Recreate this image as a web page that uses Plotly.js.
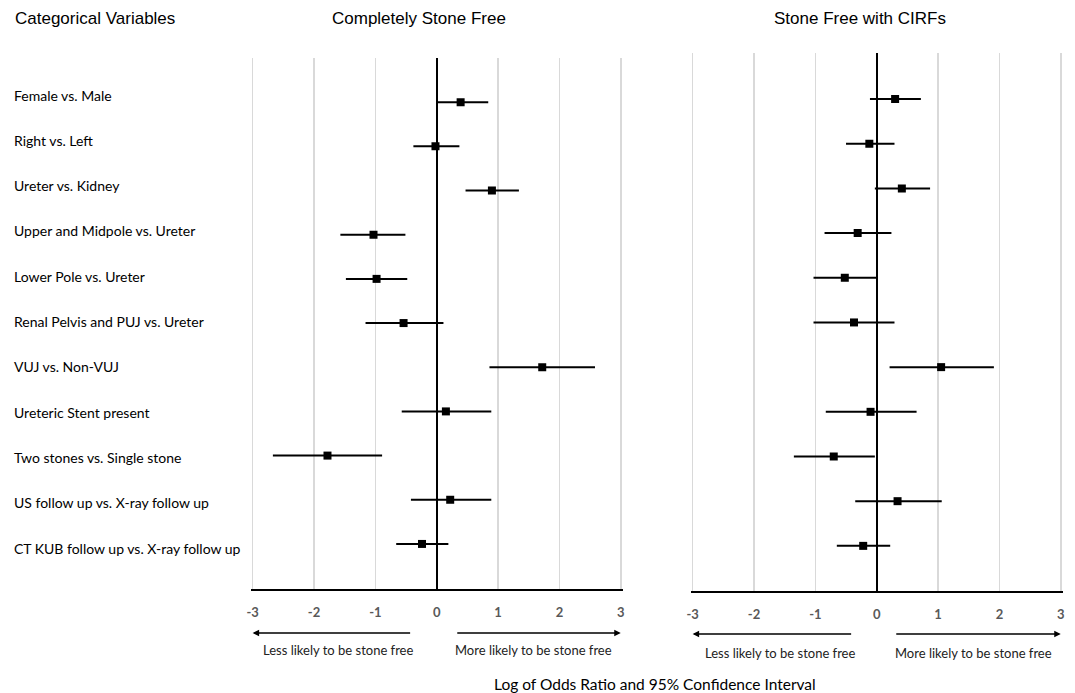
<!DOCTYPE html>
<html>
<head>
<meta charset="utf-8">
<script src="https://cdn.plot.ly/plotly-3.0.1.min.js"></script>
<style>html,body{margin:0;padding:0;background:#fff;}#chart{width:1075px;height:693px;}</style>
</head>
<body>
<div id="chart"></div>
<script>
// ---- Data ----
const categories = [
  "Female vs. Male",
  "Right vs. Left",
  "Ureter vs. Kidney",
  "Upper and Midpole vs. Ureter",
  "Lower Pole vs. Ureter",
  "Renal Pelvis and PUJ vs. Ureter",
  "VUJ vs. Non-VUJ",
  "Ureteric Stent present",
  "Two stones vs. Single stone",
  "US follow up vs. X-ray follow up",
  "CT KUB follow up vs. X-ray follow up"
];
// Completely Stone Free: log odds ratio, lower and upper 95% CI
const sfEst = [0.39, -0.02, 0.90, -1.03, -0.98, -0.54, 1.72, 0.15, -1.78, 0.22, -0.24];
const sfLow = [0.00, -0.38, 0.47, -1.57, -1.48, -1.16, 0.86, -0.57, -2.67, -0.42, -0.66];
const sfHigh = [0.84, 0.37, 1.34, -0.51, -0.48, 0.11, 2.58, 0.89, -0.89, 0.89, 0.19];
// Stone Free with CIRFs
const cfEst = [0.30, -0.12, 0.41, -0.31, -0.52, -0.37, 1.05, -0.10, -0.70, 0.34, -0.22];
const cfLow = [-0.11, -0.50, -0.03, -0.85, -1.03, -1.03, 0.21, -0.83, -1.35, -0.35, -0.65];
const cfHigh = [0.72, 0.29, 0.87, 0.24, -0.01, 0.29, 1.91, 0.65, -0.03, 1.06, 0.22];
const tickVals = [-3, -2, -1, 0, 1, 2, 3];
const tickText = ["-3", "-2", "-1", "0", "1", "2", "3"];
const panelTitles = ["Completely Stone Free", "Stone Free with CIRFs"];
const arrowLabels = ["Less likely to be stone free", "More likely to be stone free"];
const headerText = "Categorical Variables";
const axisTitle = "Log of Odds Ratio and 95% Confidence Interval";

// ---- Traces ----
const rows = categories.map((c, i) => i);
function forestTrace(est, lo, hi, xa, ya) {
  return {
    type: "scatter", mode: "markers",
    x: est, y: rows, xaxis: xa, yaxis: ya,
    marker: {symbol: "square", size: 8, color: "#000"},
    error_x: {
      type: "data", symmetric: false,
      array: est.map((v, i) => hi[i] - v),
      arrayminus: est.map((v, i) => v - lo[i]),
      width: 0, thickness: 2, color: "#000"
    },
    hoverinfo: "skip", showlegend: false
  };
}
const data = [
  forestTrace(sfEst, sfLow, sfHigh, "x", "y"),
  forestTrace(cfEst, cfLow, cfHigh, "x2", "y2")
];

const W = 1075, H = 693;
const px = v => v / W, py = v => 1 - v / H;
const calib = "Lato, 'Open Sans', sans-serif";
const arial = "'Liberation Sans', Arial, sans-serif";

function xAxis(domain, anchor) {
  return {
    domain: domain, anchor: anchor, range: [-3.03, 3.03],
    tickmode: "array", tickvals: tickVals, ticktext: tickText,
    showgrid: true, gridcolor: "#d9d9d9", gridwidth: 1.5,
    zeroline: true, zerolinecolor: "#000", zerolinewidth: 2,
    showline: true, linecolor: "#000", linewidth: 2, mirror: false,
    ticks: "", ticklabelstandoff: 10,
    tickfont: {family: calib, size: 13, color: "#595959", weight: "bold"},
    fixedrange: true
  };
}
function yAxis(domain, anchor, range) {
  return {
    domain: domain, anchor: anchor, range: range,
    showgrid: false, zeroline: false, showline: false,
    showticklabels: false, ticks: "", fixedrange: true
  };
}

const annotations = [];
// header
annotations.push({xref: "paper", yref: "paper", x: px(13), y: py(18), xanchor: "left", yanchor: "middle",
  text: headerText, showarrow: false, font: {family: arial, size: 17, color: "#000"}});
// panel titles
annotations.push({xref: "paper", yref: "paper", x: px(419), y: py(18), xanchor: "center", yanchor: "middle",
  text: panelTitles[0], showarrow: false, font: {family: arial, size: 17, color: "#000"}});
annotations.push({xref: "paper", yref: "paper", x: px(860), y: py(18), xanchor: "center", yanchor: "middle",
  text: panelTitles[1], showarrow: false, font: {family: arial, size: 17, color: "#000"}});
// category labels (left column, row pitch of the label list)
const labelTop = 95, labelPitch = 45.3;
categories.forEach((c, i) => {
  annotations.push({xref: "paper", yref: "paper", x: px(12), y: py(labelTop + i * labelPitch),
    xanchor: "left", yanchor: "middle",
    text: c, showarrow: false, font: {family: calib, size: 14, color: "#000"}});
});
// arrows and arrow labels
function arrows(xa, leftTail, rightTail, arrowY, textY, leftC, rightC) {
  annotations.push({xref: xa, yref: "paper", x: -3, y: py(arrowY), ax: leftTail, ay: 0,
    axref: "pixel", ayref: "pixel", text: "", showarrow: true,
    arrowhead: 2, arrowsize: 1, arrowwidth: 1.3, arrowcolor: "#000"});
  annotations.push({xref: xa, yref: "paper", x: 3, y: py(arrowY), ax: rightTail, ay: 0,
    axref: "pixel", ayref: "pixel", text: "", showarrow: true,
    arrowhead: 2, arrowsize: 1, arrowwidth: 1.3, arrowcolor: "#000"});
  annotations.push({xref: "paper", yref: "paper", x: px(leftC), y: py(textY), xanchor: "center", yanchor: "middle",
    text: arrowLabels[0], showarrow: false, font: {family: calib, size: 13, color: "#222"}});
  annotations.push({xref: "paper", yref: "paper", x: px(rightC), y: py(textY), xanchor: "center", yanchor: "middle",
    text: arrowLabels[1], showarrow: false, font: {family: calib, size: 13, color: "#222"}});
}
arrows("x", 159, -165, 633, 650, 338, 533);
arrows("x2", 160, -166, 634, 653, 780, 973);
// bottom title
annotations.push({xref: "paper", yref: "paper", x: px(655), y: py(684), xanchor: "center", yanchor: "middle",
  text: axisTitle, showarrow: false, font: {family: calib, size: 15.5, color: "#000"}});

const layout = {
  width: W, height: H,
  margin: {l: 0, r: 0, t: 0, b: 0},
  paper_bgcolor: "#fff", plot_bgcolor: "#fff",
  showlegend: false,
  xaxis: xAxis([px(250.8), px(622.6)], "y"),
  yaxis: yAxis([py(589), py(58)], "x", [11.02, -1.0]),
  xaxis2: xAxis([px(690.8), px(1062.6)], "y2"),
  yaxis2: yAxis([py(591), py(53)], "x2", [11.01, -1.03]),
  annotations: annotations
};

Plotly.newPlot("chart", data, layout, {displayModeBar: false, staticPlot: true});
</script>
</body>
</html>
